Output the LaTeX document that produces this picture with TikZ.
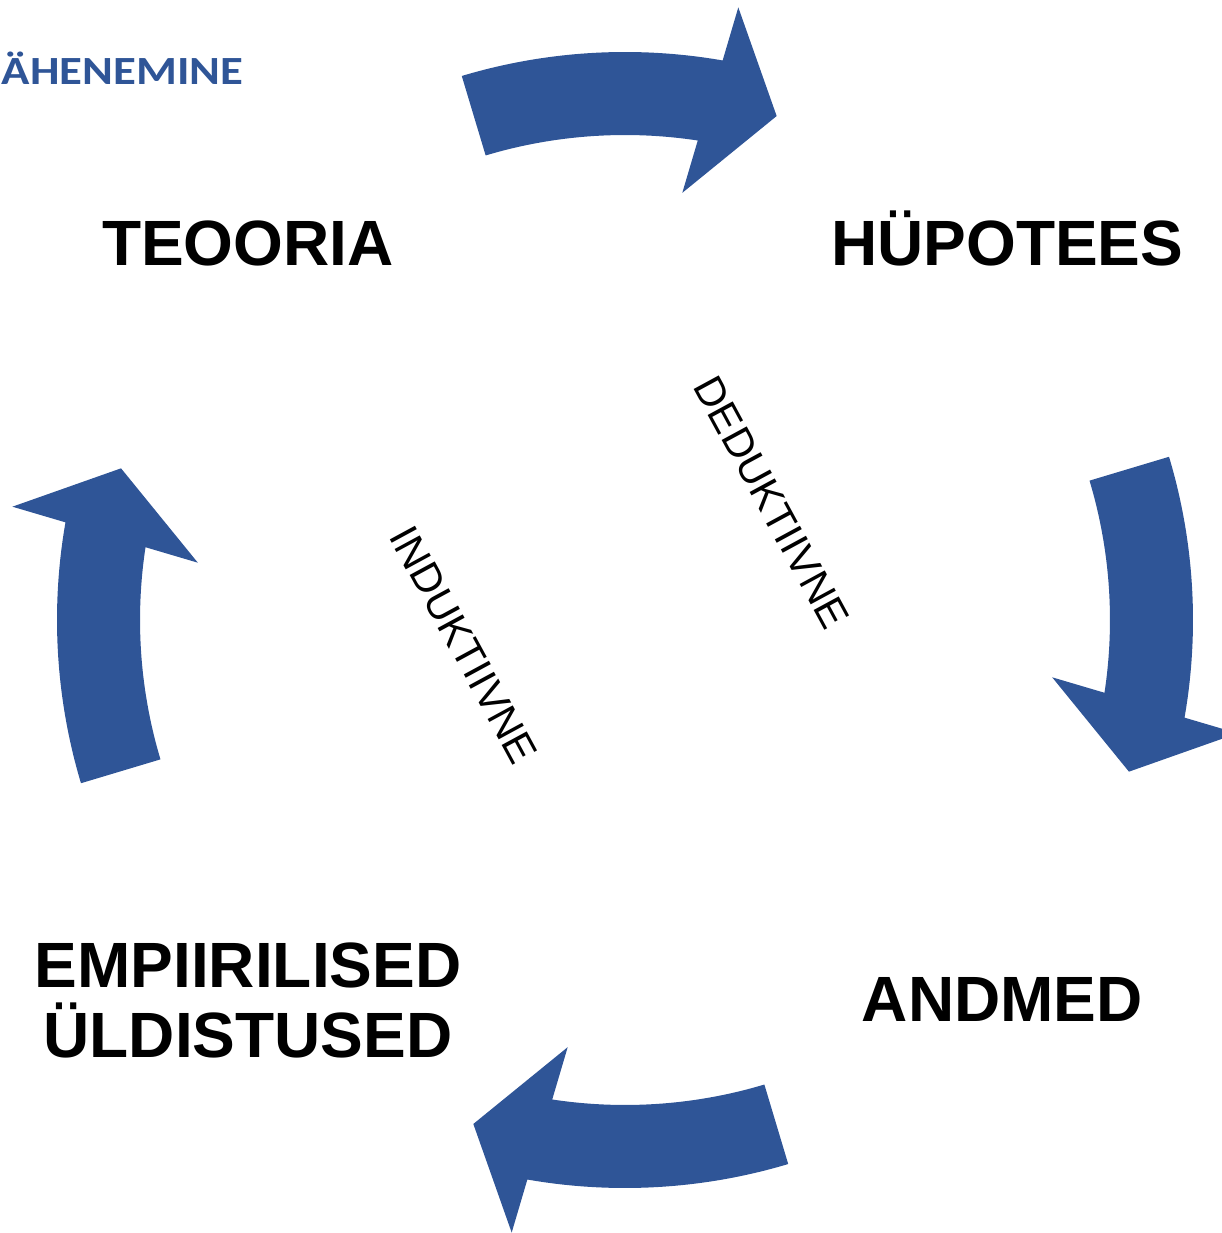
\documentclass[tikz,border=0pt]{standalone}
\usepackage{fontspec}
\setmainfont{Liberation Sans}
\newfontfamily\carlito{Carlito}
\definecolor{arrowblue}{HTML}{2F5597}
\begin{document}
\begin{tikzpicture}[x=1pt,y=1pt,
  biglabel/.style={font=\fontsize{64}{64}\selectfont\bfseries, inner sep=0pt, anchor=base},
  rotlabel/.style={font=\fontsize{41.5}{41.5}\selectfont, inner sep=0pt, rotate=-61.5},
  cyclearrow/.style={fill=arrowblue, draw=none}]
\useasboundingbox (-625,-613) rectangle (597,620);
\clip (-625,-613) rectangle (597,620);
\foreach \r in {0,-90,-180,-270}{
  \fill[cyclearrow, rotate=\r] (106.7:568) arc[start angle=106.7, end angle=80.1, radius=568]
    -- (79.52:623) -- (73.25:526.3) -- (82.36:431) -- (81.37:485)
    arc[start angle=81.37, end angle=106.7, radius=485] -- cycle;
}
\node[biglabel] (teooria) at (-377.2,354.3) {TEOORIA};
\node[biglabel] (hypotees) at (382.2,354.3) {HÜPOTEES};
\node[biglabel] (andmed) at (377.4,-401.7) {ANDMED};
\node[biglabel] (emp) at (-377,-367) {EMPIIRILISED};
\node[biglabel] (yld) at (-377,-437) {ÜLDISTUSED};
\node[rotlabel] (ded) at (146.5,117.5) {DEDUKTIIVNE};
\node[rotlabel] (ind) at (-161.5,-25) {INDUKTIIVNE};
\node[font=\carlito\fontsize{40}{40}\selectfont\bfseries, text=arrowblue, inner sep=0pt,
  anchor=base west, xscale=1.17, transform shape] (lah) at (-623.5,535) {ÄHENEMINE};
\end{tikzpicture}
\end{document}
